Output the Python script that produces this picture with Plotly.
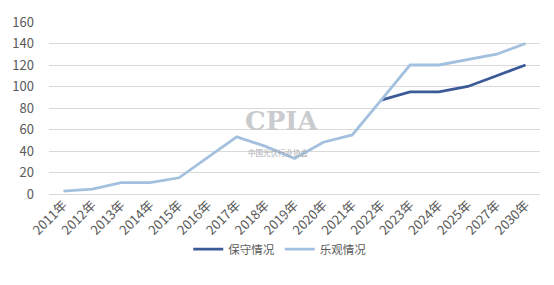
import plotly.graph_objects as go

years = ["2011年", "2012年", "2013年", "2014年", "2015年", "2016年", "2017年", "2018年",
         "2019年", "2020年", "2021年", "2022年", "2023年", "2024年", "2025年", "2027年", "2030年"]
conservative = [None, None, None, None, None, None, None, None,
                None, None, None, 87.4, 95, 95, 100, 110, 120]
optimistic = [2.7, 4.5, 10.6, 10.6, 15.1, 34.5, 53.1, 44.3,
              33, 48.2, 54.9, 87.4, 120, 120, 125, 130, 140]
y_ticks = [0, 20, 40, 60, 80, 100, 120, 140, 160]

FONT = "Noto Sans CJK SC"
TXT = "#595959"

fig = go.Figure()
fig.add_trace(go.Scatter(x=years, y=conservative, mode="lines", name="保守情况",
                         line=dict(color="#3D5A98", width=2.8)))
fig.add_trace(go.Scatter(x=years, y=optimistic, mode="lines", name="乐观情况",
                         line=dict(color="#A3C1DE", width=2.8)))

# watermark
fig.add_annotation(x=0.474, y=0.325, xref="paper", yref="paper", text="<b>CPIA</b>",
                   showarrow=False, font=dict(family="DejaVu Serif", size=26, color="#C9CBCE"))
fig.add_annotation(x=0.468, y=0.20, xref="paper", yref="paper", text="中国光伏行业协会",
                   showarrow=False, font=dict(family=FONT, size=7.5, color="#A9ABAE"))

fig.update_layout(
    width=554, height=285,
    margin=dict(l=42, r=14, t=12, b=91),
    paper_bgcolor="white", plot_bgcolor="white",
    font=dict(family=FONT, color=TXT, size=12),
    showlegend=True,
    legend=dict(orientation="h", x=0.47, xanchor="center", y=-0.32, yanchor="middle",
                font=dict(size=11.5, color=TXT), itemwidth=30, tracegroupgap=0),
    xaxis=dict(type="category", range=[-0.5, 16.5], showgrid=False, showline=False,
               ticks="", tickangle=-45, tickfont=dict(size=13, color=TXT)),
    yaxis=dict(range=[0, 160], tickvals=y_ticks, showgrid=True, gridcolor="#D9D9D9",
               gridwidth=1, zeroline=True, zerolinecolor="#D9D9D9", zerolinewidth=1,
               showline=False, ticks="", ticklabelstandoff=14,
               tickfont=dict(size=13, color=TXT)),
)

fig.write_html("out.html")
